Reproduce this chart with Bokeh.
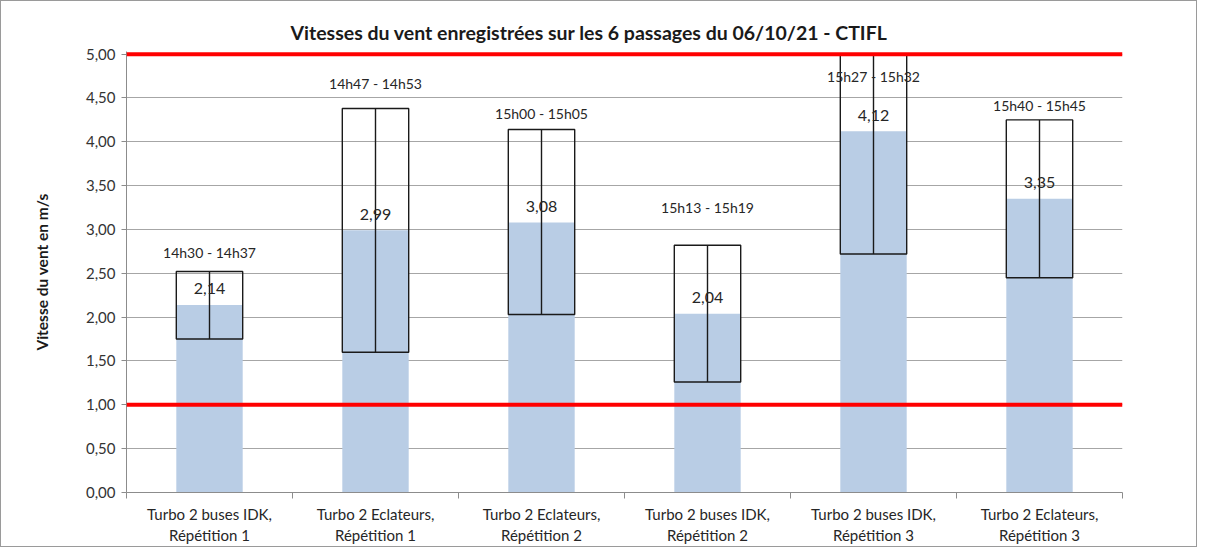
from bokeh.plotting import figure
from bokeh.models import FixedTicker, Span, ColumnDataSource
from bokeh.embed import file_html
from bokeh.resources import INLINE
from bokeh.core.properties import value

categories = [
    "Turbo 2 buses IDK,\nRépétition 1",
    "Turbo 2 Eclateurs,\nRépétition 1",
    "Turbo 2 Eclateurs,\nRépétition 2",
    "Turbo 2 buses IDK,\nRépétition 2",
    "Turbo 2 buses IDK,\nRépétition 3",
    "Turbo 2 Eclateurs,\nRépétition 3",
]
mean_speed = [2.14, 2.99, 3.08, 2.04, 4.12, 3.35]
min_speed = [1.75, 1.60, 2.03, 1.26, 2.72, 2.45]
max_speed = [2.52, 4.38, 4.14, 2.82, 5.00, 4.25]
periods = ["14h30 - 14h37", "14h47 - 14h53", "15h00 - 15h05",
           "15h13 - 15h19", "15h27 - 15h32", "15h40 - 15h45"]
period_label_y = [2.74, 4.67, 4.32, 3.25, 4.74, 4.41]
y_ticks = [0, 0.5, 1.0, 1.5, 2.0, 2.5, 3.0, 3.5, 4.0, 4.5, 5.0]
y_tick_labels = ["0,00", "0,50", "1,00", "1,50", "2,00", "2,50",
                 "3,00", "3,50", "4,00", "4,50", "5,00"]
limits = [1.0, 5.0]

FONT = "Lato"
n = len(categories)
xs = [i + 0.5 for i in range(n)]
src = ColumnDataSource(dict(
    x=xs, mean=mean_speed, lo=min_speed, hi=max_speed,
    period=periods, py=period_label_y,
    vlabel=[f"{v:.2f}".replace(".", ",") for v in mean_speed],
))

p = figure(width=1197, height=547, x_range=(0, n), y_range=(0, 5.03),
           output_backend="svg", toolbar_location=None,
           min_border_left=125, min_border_right=76,
           min_border_top=50, min_border_bottom=56)
p.outline_line_color = None
p.styles = {"border": "1px solid #9a9a9a"}

p.title.text = "Vitesses du vent enregistrées sur les 6 passages  du 06/10/21 - CTIFL"
p.title.text_font = FONT
p.title.text_font_size = "19.5px"
p.title.text_font_style = "bold"
p.title.text_color = "#1a1a1a"
p.title.align = "left"
p.title.offset = 164
p.title.standoff = 16

# bars
p.vbar(x="x", top="mean", width=0.4, source=src,
       fill_color="#b9cde5", line_color=None)
# min/max boxes
p.quad(left=[x - 0.2 for x in xs], right=[x + 0.2 for x in xs],
       bottom=min_speed, top=max_speed,
       fill_alpha=0, line_color="#1a1a1a", line_width=1.4)
p.segment(x0="x", y0="lo", x1="x", y1="hi", source=src,
          line_color="#1a1a1a", line_width=1.4)

# labels
p.text(x="x", y="mean", text="vlabel", source=src, text_align="center",
       text_baseline="middle", y_offset=-16, text_font=value(FONT),
       text_font_size="16px", text_color="#262626")
p.text(x="x", y="py", text="period", source=src, text_align="center",
       text_baseline="middle", text_font=value(FONT),
       text_font_size="14px", text_color="#262626")

for lim in limits:
    p.add_layout(Span(location=lim, dimension="width", line_color="#ff0000",
                      line_width=4))

# y axis
p.yaxis.ticker = FixedTicker(ticks=y_ticks, minor_ticks=[])
p.yaxis.major_label_overrides = {t: l for t, l in zip(y_ticks, y_tick_labels)}
p.yaxis.axis_label = "Vitesse du vent en m/s"
p.yaxis.axis_label_text_font = FONT
p.yaxis.axis_label_text_font_size = "15.5px"
p.yaxis.axis_label_text_font_style = "bold"
p.yaxis.axis_label_text_color = "#1a1a1a"
p.yaxis.axis_label_standoff = 32
p.yaxis.major_label_text_font = FONT
p.yaxis.major_label_text_font_size = "15px"
p.yaxis.major_label_text_color = "#333333"
p.yaxis.major_label_standoff = 6
p.yaxis.axis_line_color = "#8c8c8c"
p.yaxis.major_tick_line_color = "#8c8c8c"
p.yaxis.major_tick_out = 5
p.yaxis.major_tick_in = 0
p.yaxis.minor_tick_line_color = None

# x axis
p.xaxis.ticker = FixedTicker(ticks=xs, minor_ticks=list(range(n + 1)))
p.xaxis.major_label_overrides = {x: c for x, c in zip(xs, categories)}
p.xaxis.major_label_text_font = FONT
p.xaxis.major_label_text_font_size = "15px"
p.xaxis.major_label_text_line_height = 1.2
p.xaxis.major_label_text_color = "#262626"
p.xaxis.major_label_standoff = 6
p.xaxis.major_tick_line_color = None
p.xaxis.minor_tick_line_color = "#8c8c8c"
p.xaxis.minor_tick_out = 6
p.xaxis.minor_tick_in = 0
p.xaxis.axis_line_color = "#8c8c8c"

p.xgrid.grid_line_color = None
p.ygrid.grid_line_color = "#a6a6a6"
p.ygrid.ticker = FixedTicker(ticks=y_ticks)

open("out.html", "w").write(file_html(p, INLINE))
